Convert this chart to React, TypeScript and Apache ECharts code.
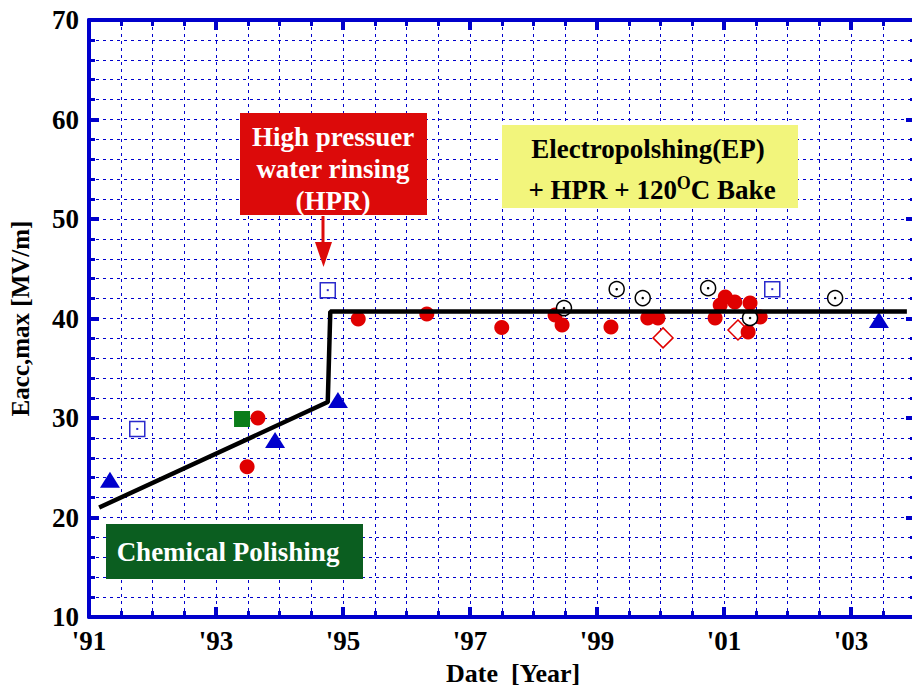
import React, { useEffect, useRef } from "react";
import * as echarts from "echarts";

// ---- data (year, Eacc,max [MV/m]) ----
const redCircles: number[][] = [
  [1993.66, 30.0], [1993.49, 25.1], [1995.24, 39.95], [1996.32, 40.45],
  [1997.5, 39.1], [1998.34, 40.35], [1998.45, 39.35], [1999.22, 39.15],
  [1999.8, 40.05], [1999.96, 40.05], [2000.86, 40.05], [2000.94, 41.35],
  [2001.02, 42.15], [2001.17, 41.65], [2001.41, 41.55], [2001.38, 38.65],
  [2001.57, 40.15],
];
const openCircles: number[][] = [
  [1998.48, 41.05], [1999.31, 42.95], [1999.72, 42.05], [2000.75, 43.05],
  [2001.41, 40.05], [2002.75, 42.05],
];
const openDiamonds: number[][] = [[2000.04, 38.05], [2001.22, 38.85]];
const openSquares: number[][] = [[1991.76, 28.9], [1994.76, 42.85], [2001.76, 42.95]];
const blueTriangles: number[][] = [
  [1991.33, 23.8], [1993.93, 27.8], [1994.92, 31.8], [2003.44, 39.85],
];
const greenSquares: number[][] = [[1993.41, 29.9]];
const trendLine: number[][] = [
  [1991.16, 21.0], [1994.76, 31.6], [1994.8, 40.7], [2003.88, 40.7],
];

const X_MIN = 1991;
const X_MAX = 2005;
const X_INTERVAL = 2;
const Y_MIN = 10;
const Y_MAX = 70;
const Y_INTERVAL = 10;

const X_NAME = "Date  [Year]";
const Y_NAME = "Eacc,max [MV/m]";
const HPR_LINES = ["High pressuer", "water rinsing", "(HPR)"];
const EP_LINE1 = "Electropolshing(EP)";
const EP_LINE2 = "+ HPR + 120{sup|O}C Bake";
const CP_TEXT = "Chemical Polishing";

const BLUE = "#0000cc";
const FONT = "Liberation Serif, serif";

export default function App() {
  const ref = useRef<HTMLDivElement>(null);

  useEffect(() => {
    document.body.style.margin = "0";
    if (!ref.current) return;
    const chart = echarts.init(ref.current, null, { renderer: "svg" });

    const tickLabel = {
      fontSize: 27,
      fontWeight: "bold",
      color: "#000",
      fontFamily: FONT,
    };
    const grid = { color: BLUE, width: 1, type: [3, 4] as number[] };

    const option: any = {
      animation: false,
      backgroundColor: "#fff",
      grid: { left: 89, top: 20, right: 12, bottom: 73, containLabel: false },
      xAxis: [
        {
          type: "value",
          min: X_MIN,
          max: X_MAX,
          interval: X_INTERVAL,
          position: "bottom",
          axisLine: { show: true, onZero: false, lineStyle: { color: BLUE, width: 4 } },
          axisTick: { show: true, inside: true, length: 10, lineStyle: { color: BLUE, width: 4 } },
          minorTick: { show: true, splitNumber: 4, length: 6, lineStyle: { color: BLUE, width: 3 } },
          axisLabel: {
            ...tickLabel,
            margin: 10,
            formatter: (v: number) =>
              Math.round(v) % 2 === 1 && v <= 2003 ? "'" + String(Math.round(v)).slice(2) : "",
          },
          splitLine: { show: true, lineStyle: grid },
          minorSplitLine: { show: true, lineStyle: grid },
        },
        {
          type: "value",
          min: X_MIN,
          max: X_MAX,
          interval: X_INTERVAL,
          position: "top",
          axisLine: { show: true, onZero: false, lineStyle: { color: BLUE, width: 4 } },
          axisTick: { show: true, inside: true, length: 10, lineStyle: { color: BLUE, width: 4 } },
          minorTick: { show: true, splitNumber: 4, length: 6, lineStyle: { color: BLUE, width: 3 } },
          axisLabel: { show: false },
          splitLine: { show: false },
        },
      ],
      yAxis: [
        {
          type: "value",
          min: Y_MIN,
          max: Y_MAX,
          interval: Y_INTERVAL,
          position: "left",
          name: Y_NAME,
          nameLocation: "middle",
          nameGap: 56,
          nameTextStyle: { fontSize: 25, fontWeight: "bold", color: "#000", fontFamily: FONT },
          axisLine: { show: true, onZero: false, lineStyle: { color: BLUE, width: 4 } },
          axisTick: { show: true, inside: true, length: 10, lineStyle: { color: BLUE, width: 4 } },
          minorTick: { show: true, splitNumber: 5, length: 6, lineStyle: { color: BLUE, width: 3 } },
          axisLabel: { ...tickLabel, margin: 10 },
          splitLine: { show: true, lineStyle: grid },
          minorSplitLine: { show: true, lineStyle: grid },
        },
        {
          type: "value",
          min: Y_MIN,
          max: Y_MAX,
          interval: Y_INTERVAL,
          position: "right",
          offset: -62,
          axisLine: { show: true, onZero: false, lineStyle: { color: BLUE, width: 4 } },
          axisTick: { show: true, inside: true, length: 10, lineStyle: { color: BLUE, width: 4 } },
          minorTick: { show: true, splitNumber: 5, length: 6, lineStyle: { color: BLUE, width: 3 } },
          axisLabel: { show: false },
          splitLine: { show: false },
        },
      ],
      series: [
        {
          type: "scatter",
          data: openDiamonds,
          symbol: "diamond",
          symbolSize: 20,
          itemStyle: { color: "#fff", borderColor: "#e00000", borderWidth: 1.5, opacity: 1 },
          z: 3,
        },
        {
          type: "scatter",
          data: openSquares,
          symbol: "rect",
          symbolSize: 15,
          itemStyle: { color: "#fff", borderColor: "#2a2acc", borderWidth: 1.5, opacity: 1 },
          z: 3,
        },
        {
          type: "scatter",
          data: openSquares,
          symbol: "rect",
          symbolSize: 2,
          itemStyle: { color: "#2a2acc", opacity: 1 },
          z: 4,
        },
        {
          type: "scatter",
          data: greenSquares,
          symbol: "rect",
          symbolSize: 16,
          itemStyle: { color: "#0a7d1a", opacity: 1 },
          z: 3,
        },
        {
          type: "scatter",
          data: blueTriangles,
          symbol: "triangle",
          symbolSize: [20, 16],
          itemStyle: { color: "#0000cc", opacity: 1 },
          z: 3,
        },
        {
          type: "scatter",
          data: redCircles,
          symbol: "circle",
          symbolSize: 15,
          itemStyle: { color: "#e00000", opacity: 1 },
          z: 4,
        },
        {
          type: "scatter",
          data: openCircles,
          symbol: "circle",
          symbolSize: 15,
          itemStyle: { color: "#fff", borderColor: "#000", borderWidth: 1.5, opacity: 1 },
          z: 5,
        },
        {
          type: "scatter",
          data: openCircles,
          symbol: "circle",
          symbolSize: 2.5,
          itemStyle: { color: "#000", opacity: 1 },
          z: 6,
        },
        {
          type: "line",
          data: trendLine,
          showSymbol: false,
          symbol: "none",
          lineStyle: { color: "#000", width: 4.5 },
          z: 7,
        },
      ],
      graphic: [
        {
          type: "text",
          left: 518 - 72,
          top: 660,
          style: { text: X_NAME, fontSize: 26, fontWeight: "bold", fill: "#000", fontFamily: FONT },
          z: 10,
        },
        // HPR box
        {
          type: "rect",
          shape: { x: 240, y: 113, width: 187, height: 102 },
          style: { fill: "#dc0a0a" },
          z: 10,
        },
        ...HPR_LINES.map((t, i) => ({
          type: "text",
          x: 333,
          y: 137 + i * 32,
          style: {
            text: t,
            fontSize: 27,
            fontWeight: "bold",
            fill: "#fff",
            fontFamily: FONT,
            align: "center",
            verticalAlign: "middle",
          },
          z: 11,
        })),
        {
          type: "line",
          shape: { x1: 323, y1: 216, x2: 323, y2: 246 },
          style: { stroke: "#dc0a0a", lineWidth: 3 },
          z: 10,
        },
        {
          type: "polygon",
          shape: { points: [[315, 242], [332, 242], [323.5, 267]] },
          style: { fill: "#dc0a0a" },
          z: 10,
        },
        // EP box
        {
          type: "rect",
          shape: { x: 502, y: 125, width: 296, height: 83 },
          style: { fill: "#f2f57c" },
          z: 10,
        },
        {
          type: "text",
          x: 648,
          y: 149,
          style: {
            text: EP_LINE1,
            fontSize: 27,
            fontWeight: "bold",
            fill: "#000",
            fontFamily: FONT,
            align: "center",
            verticalAlign: "middle",
          },
          z: 11,
        },
        {
          type: "text",
          x: 652,
          y: 190,
          style: {
            text: EP_LINE2,
            fontSize: 27,
            fontWeight: "bold",
            fill: "#000",
            fontFamily: FONT,
            align: "center",
            verticalAlign: "middle",
            rich: {
              sup: {
                fontSize: 18,
                fontWeight: "bold",
                fontFamily: FONT,
                fill: "#000",
                verticalAlign: "top",
                padding: [0, 0, 14, 0],
              },
            },
          },
          z: 11,
        },
        // CP box
        {
          type: "rect",
          shape: { x: 106, y: 524, width: 257, height: 55 },
          style: { fill: "#0b5e20" },
          z: 10,
        },
        {
          type: "text",
          x: 228,
          y: 552,
          style: {
            text: CP_TEXT,
            fontSize: 27,
            fontWeight: "bold",
            fill: "#fff",
            fontFamily: FONT,
            align: "center",
            verticalAlign: "middle",
          },
          z: 11,
        },
      ],
    };

    chart.setOption(option);
    return () => chart.dispose();
  }, []);

  return (
    <div style={{ width: 912, height: 690, overflow: "hidden", position: "relative" }}>
      <div ref={ref} style={{ width: 990, height: 690 }} />
    </div>
  );
}
